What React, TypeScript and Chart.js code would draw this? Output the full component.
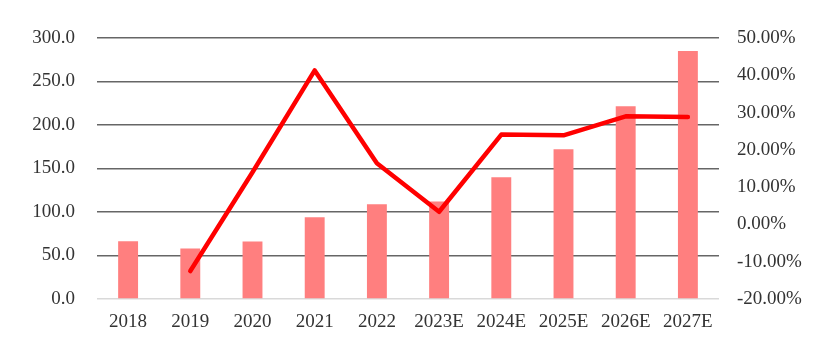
import React, { useEffect, useRef } from "react";
import { Chart, registerables } from "chart.js";

Chart.register(...registerables);

const categories = ["2018", "2019", "2020", "2021", "2022", "2023E", "2024E", "2025E", "2026E", "2027E"];
const marketSize = [66.3, 58.0, 66.0, 94.0, 109.0, 112.0, 140.0, 172.0, 221.5, 285.0];
const growthRate = [null, -12.5, 14.0, 41.3, 16.4, 3.4, 24.1, 23.9, 29.0, 28.8];

const FONT = "'Liberation Serif', 'Times New Roman', serif";
const TEXT = "#333333";

export default function App() {
  const ref = useRef<HTMLCanvasElement | null>(null);

  useEffect(() => {
    document.body.style.margin = "0";
    const canvas = ref.current;
    if (!canvas) return;
    const chart = new Chart(canvas, {
      data: {
        labels: categories,
        datasets: [
          {
            type: "line",
            data: growthRate,
            yAxisID: "y1",
            borderColor: "#ff0000",
            borderWidth: 4.5,
            borderJoinStyle: "round",
            borderCapStyle: "round",
            pointRadius: 0,
            tension: 0,
            order: 0,
            spanGaps: false,
          },
          {
            type: "bar",
            data: marketSize,
            yAxisID: "y",
            backgroundColor: "#ff7f7f",
            barPercentage: 0.32,
            categoryPercentage: 1,
            order: 1,
          },
        ],
      } as any,
      options: {
        animation: false,
        responsive: false,
        maintainAspectRatio: false,
        layout: { padding: { top: 38, bottom: 0, left: 0, right: 0 } },
        plugins: { legend: { display: false }, tooltip: { enabled: false } },
        scales: {
          x: {
            grid: { display: false, drawTicks: false },
            border: { display: false },
            ticks: { color: TEXT, font: { family: FONT, size: 19 }, padding: 12, maxRotation: 0, autoSkip: false },
            afterFit: (s: any) => { s.height = 43; },
          },
          y: {
            position: "left",
            min: 0,
            max: 300,
            grid: {
              drawTicks: false,
              color: (c: any) => (c.tick && c.tick.value === 0 ? "#d9d9d9" : "#666666"),
              lineWidth: 1.5,
            },
            border: { display: false },
            ticks: {
              stepSize: 50,
              color: TEXT,
              font: { family: FONT, size: 19 },
              padding: 22,
              callback: (v: any) => Number(v).toFixed(1),
            },
            afterFit: (s: any) => { s.width = 97; },
          },
          y1: {
            position: "right",
            min: -20,
            max: 50,
            grid: { display: false, drawTicks: false },
            border: { display: false },
            ticks: {
              stepSize: 10,
              color: TEXT,
              font: { family: FONT, size: 19 },
              padding: 18,
              callback: (v: any) => Number(v).toFixed(2) + "%",
            },
            afterFit: (s: any) => { s.width = 113; },
          },
        },
      } as any,
    });
    return () => chart.destroy();
  }, []);

  return (
    <div style={{ width: 832, height: 342, background: "#fff" }}>
      <canvas ref={ref} width={832} height={342} style={{ display: "block" }} />
    </div>
  );
}
